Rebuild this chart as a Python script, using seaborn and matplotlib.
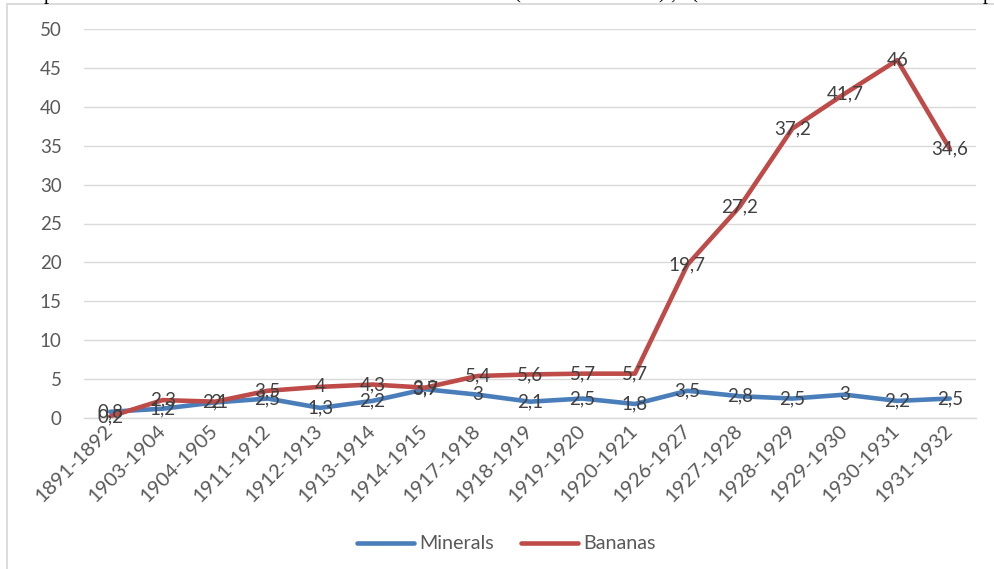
import numpy as np
import pandas as pd
import seaborn as sns
import matplotlib.pyplot as plt
from matplotlib.lines import Line2D

# Export shares per fiscal year
periods = ["1891-1892", "1903-1904", "1904-1905", "1911-1912", "1912-1913",
           "1913-1914", "1914-1915", "1917-1918", "1918-1919", "1919-1920",
           "1920-1921", "1926-1927", "1927-1928", "1928-1929", "1929-1930",
           "1930-1931", "1931-1932"]
minerals = [0.8, 1.2, 2, 2.5, 1.3, 2.2, 3.7, 3, 2.1, 2.5, 1.8, 3.5, 2.8, 2.5, 3, 2.2, 2.5]
bananas = [0.2, 2.3, 2.1, 3.5, 4, 4.3, 3.9, 5.4, 5.6, 5.7, 5.7, 19.7, 27.2, 37.2, 41.7, 46, 34.6]
series_names = ["Minerals", "Bananas"]
y_ticks = list(range(0, 51, 5))

colors = {"Minerals": "#4A7EBB", "Bananas": "#BE4B48"}

sns.set_theme(style="white")
plt.rcParams["font.family"] = ["Lato", "DejaVu Sans"]

n = len(periods)
df = pd.DataFrame({
    "idx": list(range(n)) * 2,
    "value": minerals + bananas,
    "series": [series_names[0]] * n + [series_names[1]] * n,
})

W, H = 995, 569
fig = plt.figure(figsize=(W / 100, H / 100), dpi=100)
ax = fig.add_axes([84 / W, 1 - 418 / H, (976 - 84) / W, (418 - 29) / H])

sns.lineplot(data=df, x="idx", y="value", hue="series", palette=colors,
             linewidth=3.3, sort=False, ax=ax, legend=False)
for ln in ax.lines:
    ln.set_solid_joinstyle("round")
    ln.set_solid_capstyle("round")

ax.set_xlim(-0.5, n - 0.5)
ax.set_ylim(0, 50)
ax.set_yticks(y_ticks)
ax.set_yticklabels([str(t) for t in y_ticks])
ax.set_xticks(range(n))
ax.set_xticklabels(periods, rotation=45, ha="right", va="center",
                   rotation_mode="anchor")
ax.set_xlabel("")
ax.set_ylabel("")
ax.yaxis.grid(True, color="#d9d9d9", linewidth=1.0)
ax.set_axisbelow(True)
for side in ["top", "right", "left"]:
    ax.spines[side].set_visible(False)
ax.spines["bottom"].set_color("#d9d9d9")
ax.spines["bottom"].set_linewidth(1.0)
ax.tick_params(axis="y", length=0, pad=16, labelsize=13.5, labelcolor="#595959")
ax.tick_params(axis="x", length=0, pad=7, labelsize=14.5, labelcolor="#595959")

# Value labels centred on each point, decimal comma
for name, vals in zip(series_names, [minerals, bananas]):
    for i, v in enumerate(vals):
        ax.text(i, v, f"{v:g}".replace(".", ","), ha="center", va="center",
                fontsize=13.5, color="#404040", zorder=5)

handles = [Line2D([], [], color=colors[s], linewidth=3.3, solid_capstyle="round")
           for s in series_names]
fig.legend(handles, series_names, loc="center", bbox_to_anchor=(0.509, 0.044),
           ncol=2, frameon=False, handlelength=2.85, handletextpad=0.27,
           columnspacing=1.4, fontsize=14.2, labelcolor="#595959")

# Chart frame (top and left edges)
fig.add_artist(Line2D([7 / W, 7 / W], [0, 1 - 4 / H], color="#d9d9d9",
                      linewidth=1.3, transform=fig.transFigure))
fig.add_artist(Line2D([7 / W, 1], [1 - 4 / H, 1 - 4 / H], color="#d9d9d9",
                      linewidth=1.3, transform=fig.transFigure))

# Lower edge of the caption line above the chart
for x, ch in [(49, "p"), (517, "("), (662, ")"), (673, ","), (694, "("), (988, "p")]:
    fig.text(x / W, 1.0 + 1.5 / H, ch, ha="center", va="baseline", fontsize=15,
             family="Liberation Serif", color="#000000")

fig.savefig("out.png", dpi=100)
